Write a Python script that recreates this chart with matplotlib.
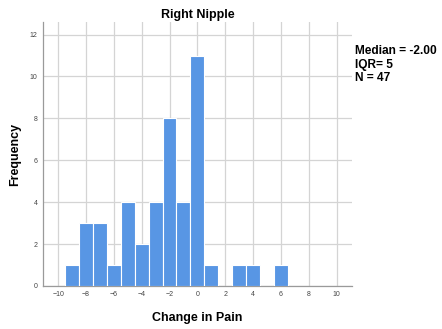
import matplotlib
matplotlib.use("Agg")
import matplotlib.pyplot as plt
import numpy as np

plt.rcParams['font.family'] = ['Liberation Sans', 'DejaVu Sans']

# Histogram bins (centres) and counts
bin_centres = [-9, -8, -7, -6, -5, -4, -3, -2, -1, 0, 1, 2, 3, 4, 5, 6]
counts = [1, 3, 3, 1, 4, 2, 4, 8, 4, 11, 1, 0, 1, 1, 0, 1]
x_ticks = [-10, -8, -6, -4, -2, 0, 2, 4, 6, 8, 10]
y_ticks = [0, 2, 4, 6, 8, 10, 12]
stats_text = "Median = -2.00\nIQR= 5\nN = 47"

fig = plt.figure(figsize=(4.42, 3.29), dpi=100)
ax = fig.add_axes([0.097, 0.131, 0.699, 0.802])

ax.bar(bin_centres, counts, width=1.0, color='#5896e4', edgecolor='white',
       linewidth=0.8, zorder=3)

ax.set_xlim(-11.1, 11.1)
ax.set_ylim(0, 12.6)
ax.set_xticks(x_ticks)
ax.set_yticks(y_ticks)
ax.tick_params(labelsize=5, colors='#444444', length=0, pad=4)
ax.grid(True, color='#d4d4d4', linewidth=0.9, zorder=0)
for s in ['top', 'right']:
    ax.spines[s].set_visible(False)
for s in ['left', 'bottom']:
    ax.spines[s].set_color('#9a9a9a')
    ax.spines[s].set_linewidth(0.9)

ax.set_title('Right Nipple', fontsize=9, fontweight='bold', pad=3)
ax.set_xlabel('Change in Pain', fontsize=9, fontweight='bold', labelpad=10)
ax.set_ylabel('Frequency', fontsize=9, fontweight='bold', labelpad=6)

fig.text(0.803, 0.862, stats_text, fontsize=8.6, fontweight='bold',
         va='top', ha='left', linespacing=1.15)

fig.savefig('out.png', dpi=100)
